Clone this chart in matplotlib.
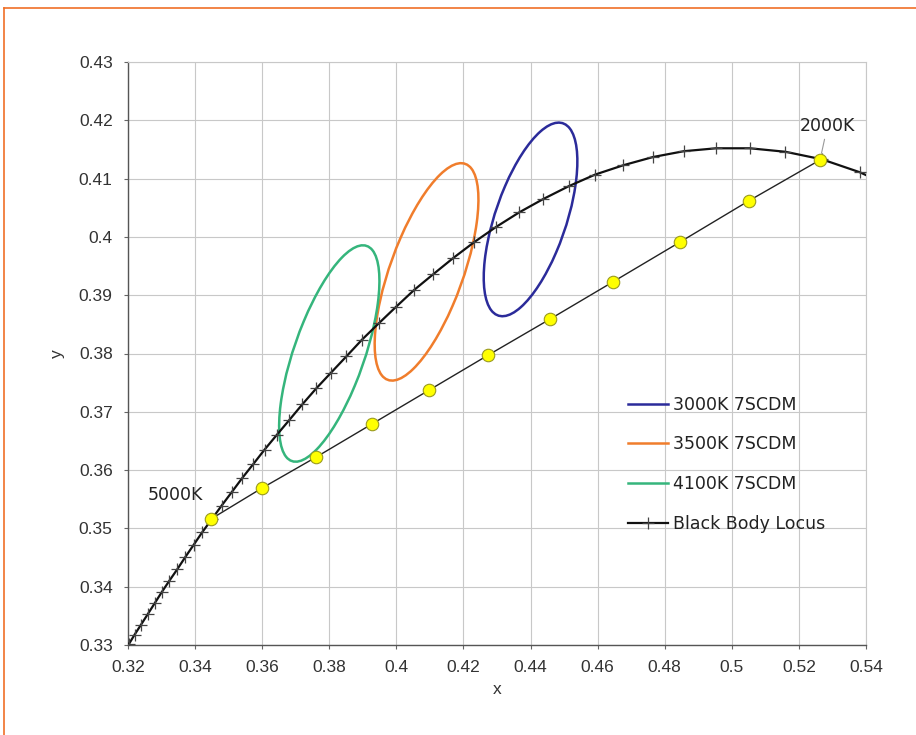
import matplotlib
matplotlib.use("Agg")
import matplotlib.pyplot as plt
from matplotlib.patches import Ellipse
from matplotlib.lines import Line2D

# Black body (Planckian) locus, 1800K .. 6200K in 100K steps
locus_T = list(range(1800, 6300, 100))
locus_x = [0.5496, 0.5381, 0.5269, 0.5160, 0.5054, 0.4953, 0.4857, 0.4765, 0.4677, 0.4593,
           0.4514, 0.4438, 0.4366, 0.4297, 0.4232, 0.4170, 0.4110, 0.4053, 0.3999, 0.3948,
           0.3898, 0.3851, 0.3805, 0.3761, 0.3720, 0.3681, 0.3643, 0.3607, 0.3573, 0.3540,
           0.3509, 0.3479, 0.3450, 0.3422, 0.3396, 0.3371, 0.3347, 0.3323, 0.3301, 0.3280,
           0.3259, 0.3239, 0.3220, 0.3202, 0.3184]
locus_y = [0.4081, 0.4111, 0.4133, 0.4146, 0.4152, 0.4152, 0.4147, 0.4137, 0.4123, 0.4107,
           0.4087, 0.4065, 0.4042, 0.4017, 0.3991, 0.3964, 0.3936, 0.3909, 0.3880, 0.3852,
           0.3824, 0.3795, 0.3767, 0.3740, 0.3713, 0.3686, 0.3660, 0.3635, 0.3610, 0.3586,
           0.3562, 0.3539, 0.3516, 0.3494, 0.3472, 0.3451, 0.3430, 0.3410, 0.3391, 0.3372,
           0.3353, 0.3335, 0.3318, 0.3301, 0.3284]

# Yellow points on the straight line 5000K -> 2000K
pts_x = [0.3447, 0.3599, 0.3760, 0.3927, 0.4097, 0.4273, 0.4458, 0.4646, 0.4845, 0.5051, 0.5263]
pts_y = [0.3516, 0.3569, 0.3622, 0.3679, 0.3737, 0.3797, 0.3859, 0.3923, 0.3991, 0.4062, 0.4132]

# 7-step MacAdam ellipses: label, centre x, centre y, semi-axis a, semi-axis b, angle (deg)
ell_labels = ["3000K 7SCDM", "3500K 7SCDM", "4100K 7SCDM"]
ell_cx = [0.440, 0.409, 0.380]
ell_cy = [0.403, 0.394, 0.380]
ell_a = [0.0195, 0.0222, 0.0219]
ell_b = [0.0095, 0.0097, 0.0094]
ell_theta = [53.1, 52.9, 54.0]
ell_colors = ["#2b2b9a", "#f07d2c", "#35b57c"]

xticks = [0.32, 0.34, 0.36, 0.38, 0.40, 0.42, 0.44, 0.46, 0.48, 0.50, 0.52, 0.54]
xtick_labels = ["0.32", "0.34", "0.36", "0.38", "0.4", "0.42", "0.44", "0.46", "0.48", "0.5", "0.52", "0.54"]
yticks = [0.33, 0.34, 0.35, 0.36, 0.37, 0.38, 0.39, 0.40, 0.41, 0.42, 0.43]
ytick_labels = ["0.33", "0.34", "0.35", "0.36", "0.37", "0.38", "0.39", "0.4", "0.41", "0.42", "0.43"]

W, H = 916, 735
fig = plt.figure(figsize=(W / 100, H / 100), dpi=100)
ax = fig.add_axes([128 / W, 1 - 645 / H, (866 - 128) / W, (645 - 62) / H])

ax.set_xlim(0.32, 0.54)
ax.set_ylim(0.33, 0.43)

ax.grid(True, color="#c8c8c8", linewidth=0.8, linestyle="-")
ax.set_axisbelow(True)

tickfont = dict(family=["Liberation Sans Narrow", "Liberation Sans", "DejaVu Sans"], size=12.5)
ax.set_xticks(xticks)
ax.set_xticklabels(xtick_labels, fontdict=tickfont, color="#333333")
ax.set_yticks(yticks)
ax.set_yticklabels(ytick_labels, fontdict=tickfont, color="#333333")
ax.tick_params(direction="out", length=3, width=0.8, color="#666666", pad=8)

for s in ["left", "bottom"]:
    ax.spines[s].set_color("#555555")
    ax.spines[s].set_linewidth(1.0)
for s in ["top", "right"]:
    ax.spines[s].set_color("#c8c8c8")
    ax.spines[s].set_linewidth(0.8)

# ellipses
handles = []
for lab, cx, cy, a, b, th, c in zip(ell_labels, ell_cx, ell_cy, ell_a, ell_b, ell_theta, ell_colors):
    e = Ellipse((cx, cy), 2 * a, 2 * b, angle=th, fill=False, edgecolor=c, linewidth=1.8, zorder=3)
    ax.add_patch(e)
    handles.append(Line2D([], [], color=c, linewidth=1.8, label=lab))

# straight line with yellow points
ax.plot(pts_x, pts_y, color="#222222", linewidth=1.0, zorder=4)
ax.plot(pts_x, pts_y, linestyle="none", marker="o", markersize=9,
        markerfacecolor="#ffff00", markeredgecolor="#9a9a20", markeredgewidth=0.8, zorder=5)

# black body locus
ax.plot(locus_x, locus_y, color="#111111", linewidth=1.6, marker="+", markersize=8,
        markeredgewidth=0.9, markeredgecolor="#444444", zorder=4, label="Black Body Locus")
handles.append(Line2D([], [], color="#111111", linewidth=1.6, marker="+", markersize=8,
                      markeredgewidth=0.9, markeredgecolor="#444444", label="Black Body Locus"))

lblfont = ["DejaVu Sans"]
ax.text(0.3258, 0.3557, "5000K", fontsize=12.5, color="#222222", ha="left", va="center",
        family=lblfont)
ax.annotate("2000K", xy=(0.5263, 0.4132), xytext=(0.5285, 0.4190), fontsize=12.5, color="#222222",
            ha="center", va="center", family=lblfont,
            arrowprops=dict(arrowstyle="-", color="#999999", lw=0.8, shrinkA=1, shrinkB=5))

leg = ax.legend(handles=handles, loc="upper left", bbox_to_anchor=((612 - 128) / 738, (645 - 380) / 583),
                frameon=False, handlelength=2.3, handletextpad=0.3, labelspacing=1.25,
                prop=dict(family=lblfont, size=12.5))
for t in leg.get_texts():
    t.set_color("#222222")

ax.set_xlabel("x", fontsize=12.5, color="#333333", labelpad=5, family=["Liberation Sans", "DejaVu Sans"])
ax.set_ylabel("y", fontsize=12.5, color="#333333", labelpad=10, family=["Liberation Sans", "DejaVu Sans"])

# orange frame (top and left edges)
fig.add_artist(Line2D([4 / W, 1.0], [1 - 8 / H, 1 - 8 / H], transform=fig.transFigure,
                      color="#f07028", linewidth=1.2))
fig.add_artist(Line2D([4 / W, 4 / W], [0.0, 1 - 8 / H], transform=fig.transFigure,
                      color="#f07028", linewidth=1.2))

fig.savefig("out.png", dpi=100)
